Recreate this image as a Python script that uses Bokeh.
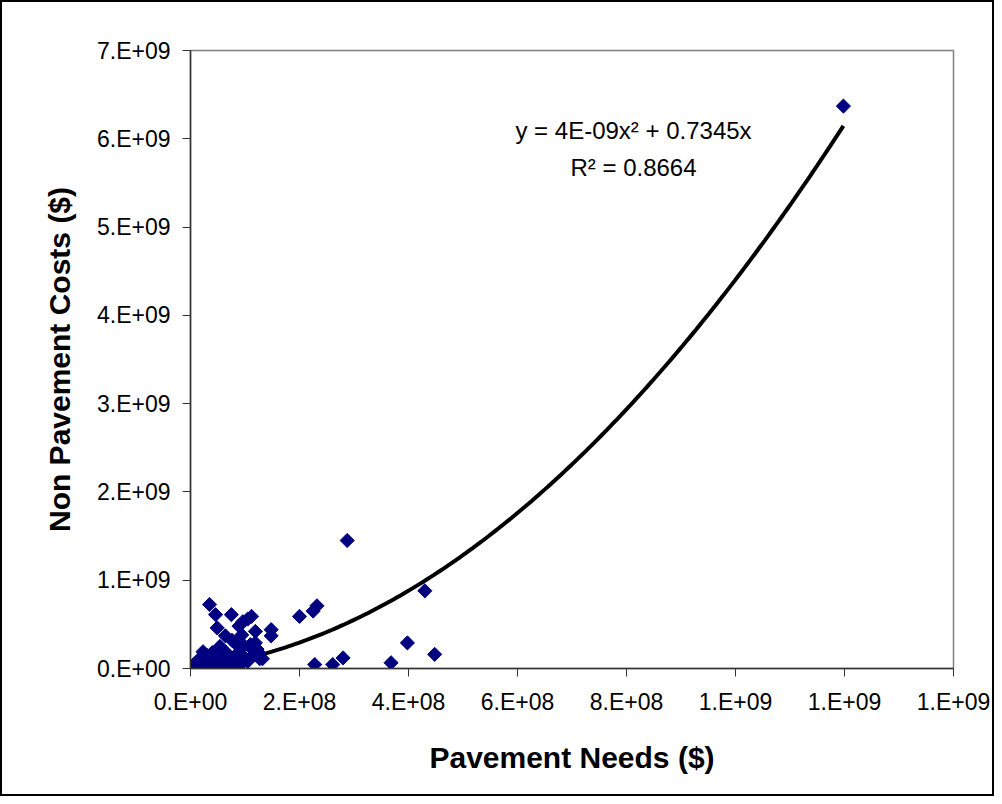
import numpy as np
from bokeh.plotting import figure
from bokeh.models import Range1d, FixedTicker, Label
from bokeh.embed import file_html
from bokeh.resources import INLINE

# Data: pavement needs (x, $1e8 units) and non-pavement costs (y, $1e9 units)
needs_1e8 = [2.875, 4.30, 3.98, 4.48, 3.68, 2.80, 2.61, 2.28, 2.32, 2.25, 2.00, 11.98,
             1.48, 1.48, 1.27, 1.19, 1.12, 1.05, 0.96, 0.75, 0.35, 0.46, 0.49, 0.64,
             0.94, 0.89, 1.19, 1.22, 1.10, 0.83, 0.54, 0.23, 0.40, 0.64, 0.86, 0.98,
             1.13, 1.32, 0.76, 0.75, 0.67, 0.15, 0.25, 0.40, 0.55, 0.70, 0.85, 1.00,
             0.05, 0.12, 0.20, 0.30, 0.40, 0.50, 0.60, 0.80, 0.95, 1.05, 0.02, 0.08,
             0.15, 0.25, 0.35, 0.45, 0.58, 0.88, 1.15, 1.25, 0.30, 0.10]
costs_1e9 = [1.45, 0.88, 0.29, 0.16, 0.065, 0.12, 0.045, 0.045, 0.71, 0.65, 0.59, 6.37,
             0.44, 0.37, 0.11, 0.42, 0.59, 0.56, 0.53, 0.61, 0.725, 0.61, 0.46, 0.37,
             0.38, 0.48, 0.29, 0.22, 0.27, 0.28, 0.25, 0.19, 0.18, 0.19, 0.17, 0.26,
             0.22, 0.11, 0.32, 0.0, 0.02, 0.10, 0.12, 0.10, 0.10, 0.11, 0.10, 0.12,
             0.04, 0.03, 0.05, 0.04, 0.03, 0.05, 0.06, 0.05, 0.07, 0.08, 0.01, 0.0,
             0.01, 0.0, 0.02, 0.0, 0.02, 0.02, 0.15, 0.18, 0.15, 0.06]

# Trendline (polynomial, zero intercept) coefficients
trend_a = 3.67e-9
trend_b = 0.7345
equation_text = "y = 4E-09x² + 0.7345x"
r2_text = "R² = 0.8664"

x_ticks = [0, 2e8, 4e8, 6e8, 8e8, 1.0e9, 1.2e9, 1.4e9]
x_tick_labels = ["0.E+00", "2.E+08", "4.E+08", "6.E+08", "8.E+08", "1.E+09", "1.E+09", "1.E+09"]
y_ticks = [0, 1e9, 2e9, 3e9, 4e9, 5e9, 6e9, 7e9]
y_tick_labels = ["0.E+00", "1.E+09", "2.E+09", "3.E+09", "4.E+09", "5.E+09", "6.E+09", "7.E+09"]

x = np.array(needs_1e8) * 1e8
y = np.array(costs_1e9) * 1e9

FONT = "Liberation Sans"

p = figure(width=994, height=796, output_backend="svg", toolbar_location=None,
           x_range=Range1d(0, 1.4e9), y_range=Range1d(0, 7e9),
           min_border_left=188, min_border_top=48, min_border_right=43, min_border_bottom=130)
p.styles = {"border": "2px solid black"}
p.background_fill_color = "white"
p.border_fill_color = "white"
p.outline_line_color = "#808080"
p.outline_line_width = 1.5
p.xgrid.visible = False
p.ygrid.visible = False

for ax, ticks, labels in ((p.xaxis[0], x_ticks, x_tick_labels), (p.yaxis[0], y_ticks, y_tick_labels)):
    ax.ticker = FixedTicker(ticks=ticks)
    ax.major_label_overrides = {t: l for t, l in zip(ticks, labels)}
    ax.minor_tick_line_color = None
    ax.major_tick_in = 0
    ax.major_tick_out = 8
    ax.major_tick_line_color = "#333333"
    ax.axis_line_color = "#333333"
    ax.axis_line_width = 1.5
    ax.major_label_text_font = FONT
    ax.major_label_text_font_size = "23px"
    ax.major_label_text_color = "black"
    ax.axis_label_text_font = FONT
    ax.axis_label_text_font_style = "bold"
    ax.axis_label_text_font_size = "30px"
    ax.axis_label_text_color = "black"

p.xaxis.axis_label = "Pavement Needs ($)"
p.yaxis.axis_label = "Non Pavement Costs ($)"
p.xaxis.major_label_standoff = 12
p.yaxis.major_label_standoff = 12
p.xaxis.axis_label_standoff = 23
p.yaxis.axis_label_standoff = 18

xs = np.linspace(0, max(x), 200)
p.line(xs, trend_a * xs ** 2 + trend_b * xs, line_color="black", line_width=4)

p.scatter(x, y, marker="square", angle=np.pi / 4, size=10,
          fill_color="#000080", line_color="#000080")

# Label screen coordinates are relative to the plot frame (bottom-left)
p.add_layout(Label(x=443, y=538, x_units="screen", y_units="screen", text=equation_text,
                   text_font=FONT, text_font_size="24px", text_align="center",
                   text_baseline="middle", text_color="black"))
p.add_layout(Label(x=443, y=501, x_units="screen", y_units="screen", text=r2_text,
                   text_font=FONT, text_font_size="24px", text_align="center",
                   text_baseline="middle", text_color="black"))

open("out.html", "w").write(file_html(p, INLINE))
